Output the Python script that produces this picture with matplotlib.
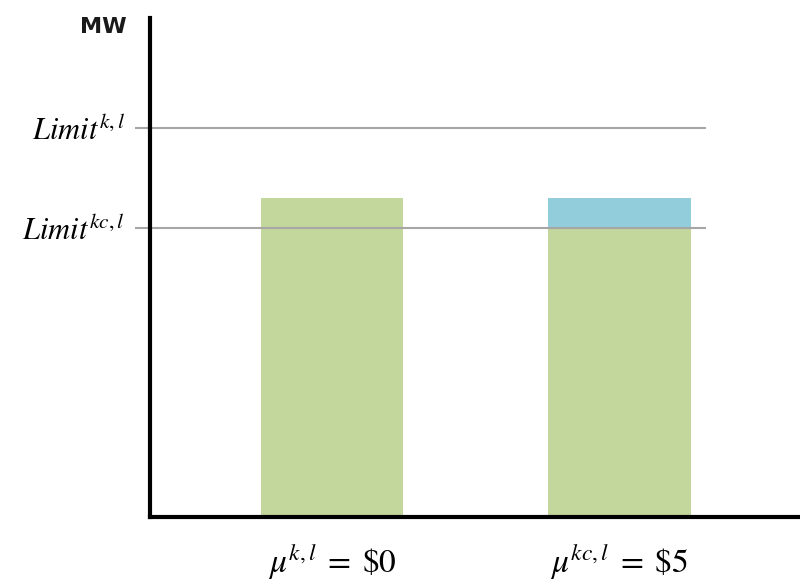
import matplotlib
matplotlib.use("Agg")
import matplotlib.pyplot as plt

# Data
categories = [r"$\mu^{k,l}\; = \; \$0$", r"$\mu^{kc,l}\; = \; \$5$"]
x_pos = [1, 3]
green_values = [64, 58]
blue_values = [0, 6]
limit_values = [78, 58]
limit_labels = [r"$Limit^{k,l}$", r"$Limit^{kc,l}$"]

plt.rcParams['mathtext.fontset'] = 'stix'

fig = plt.figure(figsize=(8, 5.86), dpi=100)
ax = fig.add_axes([150/800, (586-517)/586, 650/800, (517-18)/586])

green = "#C3D69B"
blue = "#92CDDC"
ax.bar(x_pos, green_values, width=0.99, color=green, zorder=2)
ax.bar(x_pos, blue_values, bottom=green_values, width=0.99, color=blue, zorder=2)

ax.set_xlim(-0.266, 4.256)
ax.set_ylim(0, 100)

ax.hlines(limit_values, -0.37, 3.602, colors="#A6A6A6", linewidth=1.5, zorder=3, clip_on=False)

for s in ["top", "right"]:
    ax.spines[s].set_visible(False)
for s in ["left", "bottom"]:
    ax.spines[s].set_linewidth(3)
    ax.spines[s].set_color("black")
    ax.spines[s].set_zorder(4)

ax.set_xticks(x_pos)
ax.set_xticklabels(categories, fontsize=24)
ax.tick_params(axis="x", length=0, pad=18)
ax.set_yticks(limit_values)
ax.set_yticklabels(limit_labels, fontsize=22)
ax.tick_params(axis="y", length=0, pad=18)

fig.text(127/800, 1 - 27/586, "MW", fontsize=16, fontweight="bold", ha="right", va="center",
         color="#1a1a1a")

fig.savefig("out.png", dpi=100)
